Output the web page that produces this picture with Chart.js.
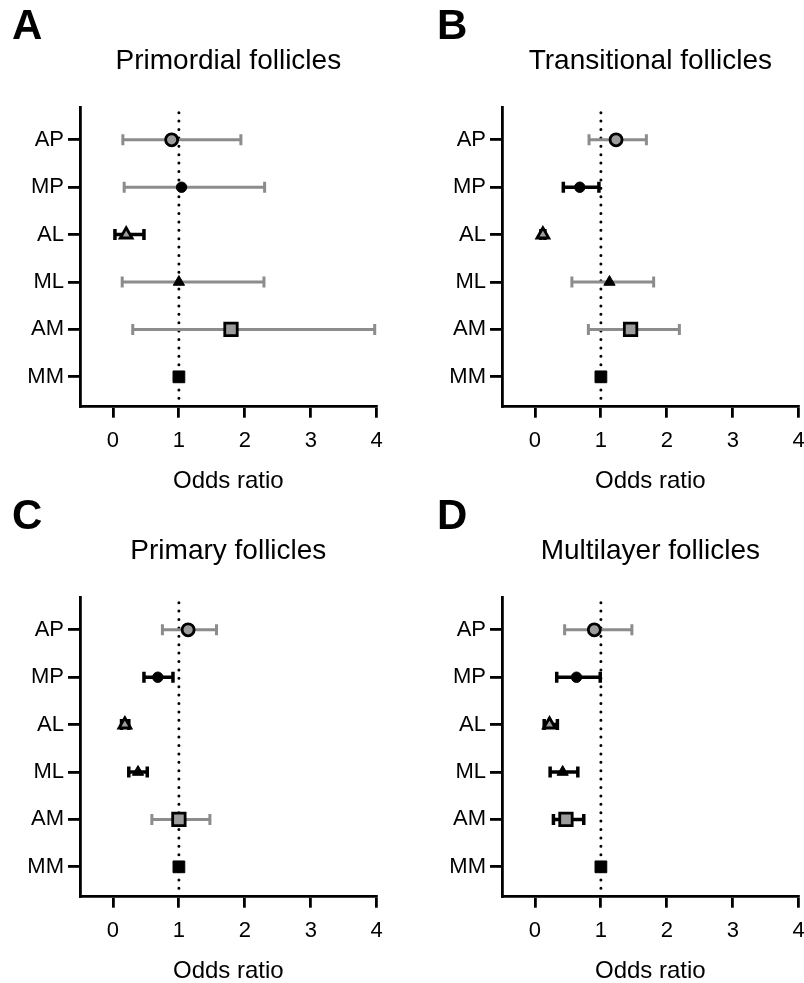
<!DOCTYPE html>
<html>
<head>
<meta charset="utf-8">
<script src="https://cdn.jsdelivr.net/npm/chart.js@4.4.1/dist/chart.umd.min.js"></script>
<style>
  html, body { margin: 0; padding: 0; background: #fff; overflow: hidden; }
  .panel { position: absolute; width: 402px; height: 493px; }
</style>
</head>
<body>
<div class="panel" style="left:0;top:0"><canvas id="chartA" width="402" height="493"></canvas></div>
<div class="panel" style="left:422px;top:0"><canvas id="chartB" width="402" height="493"></canvas></div>
<div class="panel" style="left:0;top:490px"><canvas id="chartC" width="402" height="493"></canvas></div>
<div class="panel" style="left:422px;top:490px"><canvas id="chartD" width="402" height="493"></canvas></div>
<script>
// groups, top to bottom
const categories = ['AP', 'MP', 'AL', 'ML', 'AM', 'MM'];
const xTicks = [0, 1, 2, 3, 4];
const refLine = 1;

// A - primordial
const orA = [0.89, 1.04, 0.20, 1.00, 1.79, 1.00];
const loA = [0.15, 0.17, 0.03, 0.14, 0.30, null];
const hiA = [1.94, 2.30, 0.47, 2.29, 3.97, null];
// B - transitional
const orB = [1.23, 0.68, 0.12, 1.13, 1.45, 1.00];
const loB = [0.82, 0.43, 0.09, 0.56, 0.81, null];
const hiB = [1.69, 0.97, 0.15, 1.80, 2.19, null];
// C - primary
const orC = [1.14, 0.68, 0.18, 0.38, 1.00, 1.00];
const loC = [0.75, 0.47, 0.13, 0.24, 0.59, null];
const hiC = [1.57, 0.91, 0.24, 0.52, 1.47, null];
// D - multilayer
const orD = [0.90, 0.63, 0.22, 0.42, 0.47, 1.00];
const loD = [0.45, 0.33, 0.14, 0.23, 0.28, null];
const hiD = [1.47, 0.99, 0.34, 0.65, 0.74, null];

const FONT = '"Liberation Sans", Arial, sans-serif';
const GREY_FILL = '#9c9c9c';
const GREY_BAR = '#8c8c8c';

// marker look per group
const markerStyle = ['circle', 'circle', 'triangle', 'triangle', 'rect', 'rect'];
const markerRadius = [6, 5.2, 6.8, 6.5, 8.8, 8.3];
const markerFill = [GREY_FILL, '#000', GREY_FILL, '#000', GREY_FILL, '#000'];
const markerBorder = [2.8, 1, 2.8, 1, 2.8, 1];

const Y_MIN = 0.37, Y_MAX = 6.69;

const errorBars = {
    id: 'errorBars',
    beforeDatasetDraw(chart, args, opts) {
        if (args.index !== 1) return;
        const {ctx, scales: {x, y}} = chart;
        ctx.save();
        opts.lo.forEach((lo, i) => {
            const hi = opts.hi[i];
            if (lo == null || hi == null) return;
            const yp = y.getPixelForValue(categories.length - i);
            const x1 = x.getPixelForValue(lo);
            const x2 = x.getPixelForValue(hi);
            const crosses = lo < refLine && hi > refLine;
            ctx.strokeStyle = crosses ? GREY_BAR : '#000';
            ctx.lineWidth = crosses ? 3 : 3.5;
            ctx.beginPath();
            ctx.moveTo(x1, yp); ctx.lineTo(x2, yp);
            ctx.moveTo(x1, yp - 5.5); ctx.lineTo(x1, yp + 5.5);
            ctx.moveTo(x2, yp - 5.5); ctx.lineTo(x2, yp + 5.5);
            ctx.stroke();
        });
        ctx.restore();
    }
};

const panelLetter = {
    id: 'panelLetter',
    afterDraw(chart, args, opts) {
        const ctx = chart.ctx;
        ctx.save();
        ctx.font = 'bold 42px ' + FONT;
        ctx.fillStyle = '#000';
        ctx.textBaseline = 'middle';
        ctx.fillText(opts.text, opts.x, 27);
        ctx.restore();
    }
};

function makePanel(id, letter, letterX, title, or, lo, hi) {
    const ctx = document.getElementById(id).getContext('2d');
    new Chart(ctx, {
        type: 'scatter',
        data: {
            datasets: [{
                // dotted reference line at OR = 1
                data: [{x: refLine, y: Y_MIN}, {x: refLine, y: Y_MAX}],
                showLine: true,
                borderColor: '#000',
                borderWidth: 3,
                borderDash: [0, 8.4],
                borderCapStyle: 'round',
                pointRadius: 0,
                order: 2
            }, {
                data: or.map((v, i) => ({x: v, y: categories.length - i})),
                pointStyle: markerStyle,
                pointRadius: markerRadius,
                backgroundColor: markerFill,
                borderColor: '#000',
                borderWidth: markerBorder,
                order: 1
            }]
        },
        options: {
            responsive: false,
            animation: false,
            events: [],
            layout: { padding: { top: 0, right: 25.3, bottom: 0, left: 0 } },
            plugins: {
                legend: { display: false },
                tooltip: { enabled: false },
                title: {
                    display: true,
                    text: title,
                    fullSize: false,
                    color: '#000',
                    font: { family: FONT, size: 28, weight: 'normal' },
                    padding: { top: 44.2, bottom: 29.3 }
                },
                errorBars: { lo: lo, hi: hi },
                panelLetter: { text: letter, x: letterX }
            },
            scales: {
                x: {
                    type: 'linear',
                    min: -0.5,
                    max: 4,
                    afterBuildTicks: (scale) => { scale.ticks = xTicks.map(v => ({value: v})); },
                    afterFit: (scale) => { scale.height = 86.3; },
                    border: { display: true, color: '#000', width: 2.8 },
                    grid: { drawOnChartArea: false, drawTicks: true, tickLength: 11, color: '#000', lineWidth: 2.8 },
                    ticks: { color: '#000', padding: 10, font: { family: FONT, size: 22 } },
                    title: {
                        display: true,
                        text: 'Odds ratio',
                        color: '#000',
                        font: { family: FONT, size: 24 },
                        padding: { top: 0, bottom: -3 }
                    }
                },
                y: {
                    type: 'linear',
                    min: Y_MIN,
                    max: Y_MAX,
                    afterBuildTicks: (scale) => {
                        scale.ticks = categories.map((c, i) => ({value: categories.length - i}));
                    },
                    afterFit: (scale) => { scale.width = 80; },
                    border: { display: true, color: '#000', width: 2.8 },
                    grid: { drawOnChartArea: false, drawTicks: true, tickLength: 12, color: '#000', lineWidth: 2.8 },
                    ticks: {
                        color: '#000',
                        padding: 4,
                        font: { family: FONT, size: 22 },
                        callback: (v) => categories[categories.length - v]
                    }
                }
            }
        },
        plugins: [errorBars, panelLetter]
    });
}

makePanel('chartA', 'A', 12, 'Primordial follicles', orA, loA, hiA);
makePanel('chartB', 'B', 15, 'Transitional follicles', orB, loB, hiB);
makePanel('chartC', 'C', 12, 'Primary follicles', orC, loC, hiC);
makePanel('chartD', 'D', 15, 'Multilayer follicles', orD, loD, hiD);
</script>
</body>
</html>
